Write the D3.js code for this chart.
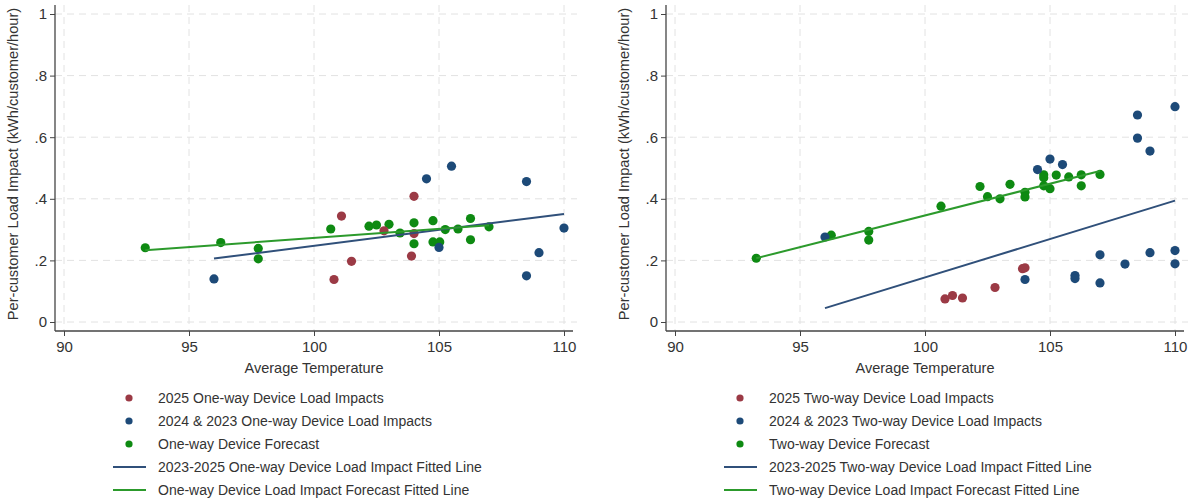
<!DOCTYPE html>
<html>
<head>
<meta charset="utf-8">
<script src="https://cdn.jsdelivr.net/npm/d3@7"></script>
<style>
  body { margin: 0; background: #fff; }
  text { font-family: "Liberation Sans", Arial, sans-serif; }
</style>
</head>
<body>
<div id="chart"></div>
<script>
// Tick values
var xTicks = [90, 95, 100, 105, 110];
var yTicks = [0, 0.2, 0.4, 0.6, 0.8, 1];
var yTickLabels = ["0", ".2", ".4", ".6", ".8", "1"];

// One-way device data: [temperature, load impact]
var oneWay2025 = [[101.1, 0.344], [100.8, 0.138], [101.5, 0.197], [102.8, 0.296],
    [104.0, 0.408], [104.0, 0.287], [103.9, 0.214]];
var oneWay2024_2023 = [[96.0, 0.140], [104.5, 0.465], [105.5, 0.506], [105.0, 0.242],
    [108.5, 0.456], [108.5, 0.150], [109.0, 0.225], [110.0, 0.305]];
var oneWayForecast = [[93.25, 0.241], [96.27, 0.258], [97.77, 0.239], [97.77, 0.205],
    [100.67, 0.302], [102.2, 0.311], [102.5, 0.315], [103.0, 0.317], [103.44, 0.289],
    [104.0, 0.322], [104.0, 0.254], [104.76, 0.329], [104.76, 0.260], [105.03, 0.260],
    [105.25, 0.300], [105.76, 0.302], [106.26, 0.336], [106.26, 0.267], [107.0, 0.309]];
var oneWayFit = [[96.0, 0.206], [110.0, 0.351]];
var oneWayForecastFit = [[93.25, 0.233], [107.0, 0.314]];

// Two-way device data
var twoWay2025 = [[100.8, 0.075], [101.1, 0.086], [101.5, 0.078], [102.8, 0.112],
    [103.9, 0.173], [104.0, 0.176]];
var twoWay2024_2023 = [[96.0, 0.276], [104.5, 0.495], [105.0, 0.529], [105.5, 0.511],
    [104.0, 0.138], [106.0, 0.151], [106.0, 0.141], [107.0, 0.218], [107.0, 0.127],
    [108.0, 0.188], [108.5, 0.672], [108.5, 0.597], [109.0, 0.555], [109.0, 0.225],
    [110.0, 0.699], [110.0, 0.232], [110.0, 0.189]];
var twoWayForecast = [[93.25, 0.207], [96.25, 0.282], [97.75, 0.294], [97.75, 0.266],
    [100.64, 0.376], [102.2, 0.440], [102.5, 0.407], [103.0, 0.400], [103.4, 0.447],
    [104.0, 0.421], [104.0, 0.406], [104.75, 0.478], [104.75, 0.468], [104.75, 0.442],
    [105.0, 0.433], [105.25, 0.477], [105.75, 0.471], [106.25, 0.478], [106.25, 0.442],
    [107.0, 0.479]];
var twoWayFit = [[96.0, 0.045], [110.0, 0.394]];
var twoWayForecastFit = [[93.25, 0.207], [107.0, 0.490]];

// Colors
var redColor = "#9b3a45";
var blueColor = "#1d4a78";
var greenColor = "#0e8a12";
var blueLine = "#30507a";
var greenLine = "#2c9a2c";

var svgWidth = 1194;
var svgHeight = 503;

var svg = d3.select("#chart")
    .append("svg")
    .attr("width", svgWidth)
    .attr("height", svgHeight);

function drawPanel(cfg) {
    var g = svg.append("g");

    var xScale = d3.scaleLinear()
        .domain([90, 110])
        .range([cfg.left, cfg.left + 500]);

    var yScale = d3.scaleLinear()
        .domain([0, 1])
        .range([322, 14]);

    // dashed grid lines
    g.selectAll(".hgrid")
        .data(yTicks)
        .enter()
        .append("line")
        .attr("x1", cfg.axisX)
        .attr("x2", cfg.left + 513)
        .attr("y1", d => yScale(d))
        .attr("y2", d => yScale(d))
        .attr("stroke", "#e2e2e2")
        .attr("stroke-dasharray", "7,5");

    g.selectAll(".vgrid")
        .data(xTicks)
        .enter()
        .append("line")
        .attr("x1", d => xScale(d))
        .attr("x2", d => xScale(d))
        .attr("y1", 5)
        .attr("y2", 331)
        .attr("stroke", "#e2e2e2")
        .attr("stroke-dasharray", "7,5");

    // x axis
    var bottomAxis = d3.axisBottom(xScale)
        .tickValues(xTicks)
        .tickSize(5)
        .tickPadding(5);

    var xAxis = g.append("g")
        .attr("transform", `translate(0, 331)`)
        .call(bottomAxis);
    xAxis.select(".domain").remove();
    xAxis.append("line")
        .attr("x1", cfg.axisX)
        .attr("x2", cfg.left + 509)
        .attr("stroke", "#444")
        .attr("stroke-width", 1.3);

    // y axis
    var leftAxis = d3.axisLeft(yScale)
        .tickValues(yTicks)
        .tickFormat((d, i) => yTickLabels[i])
        .tickSize(5)
        .tickPadding(3);

    var yAxis = g.append("g")
        .attr("transform", `translate(${cfg.axisX}, 0)`)
        .call(leftAxis);
    yAxis.select(".domain").remove();
    yAxis.append("line")
        .attr("y1", 5)
        .attr("y2", 331)
        .attr("stroke", "#444")
        .attr("stroke-width", 1.3);

    g.selectAll(".tick line").attr("stroke", "#444");
    g.selectAll(".tick text")
        .attr("font-size", "15px")
        .attr("fill", "#333")
        .style("font-family", "'Liberation Sans', Arial, sans-serif");

    // axis titles
    g.append("text")
        .attr("x", xScale(100))
        .attr("y", 373)
        .attr("text-anchor", "middle")
        .attr("font-size", "14.5px")
        .attr("fill", "#333")
        .text("Average Temperature");

    g.append("text")
        .attr("transform", `translate(${cfg.axisX - 37}, ${yScale(0.5) - 4}) rotate(-90)`)
        .attr("text-anchor", "middle")
        .attr("font-size", "14.6px")
        .attr("fill", "#333")
        .text("Per-customer Load Impact (kWh/customer/hour)");

    var line = d3.line()
        .x(d => xScale(d[0]))
        .y(d => yScale(d[1]));

    // points
    var groups = [
        { data: cfg.forecast, color: greenColor },
        { data: cfg.past, color: blueColor },
        { data: cfg.recent, color: redColor }
    ];
    groups.forEach(function (grp) {
        g.selectAll(null)
            .data(grp.data)
            .enter()
            .append("circle")
            .attr("cx", d => xScale(d[0]))
            .attr("cy", d => yScale(d[1]))
            .attr("r", 4.6)
            .attr("fill", grp.color);
    });

    // fitted lines
    g.append("path")
        .datum(cfg.fit)
        .attr("d", line)
        .attr("fill", "none")
        .attr("stroke", blueLine)
        .attr("stroke-width", 2);

    g.append("path")
        .datum(cfg.forecastFit)
        .attr("d", line)
        .attr("fill", "none")
        .attr("stroke", greenLine)
        .attr("stroke-width", 2);

    // legend
    var rows = [
        { type: "dot", color: redColor, label: cfg.labels[0] },
        { type: "dot", color: blueColor, label: cfg.labels[1] },
        { type: "dot", color: greenColor, label: cfg.labels[2] },
        { type: "line", color: blueLine, label: cfg.labels[3] },
        { type: "line", color: greenLine, label: cfg.labels[4] }
    ];
    var legend = g.append("g");
    rows.forEach(function (r, i) {
        var y = 398 + i * 23;
        if (r.type === "dot") {
            legend.append("circle")
                .attr("cx", cfg.legendX + 16)
                .attr("cy", y)
                .attr("r", 3.6)
                .attr("fill", r.color);
        } else {
            legend.append("line")
                .attr("x1", cfg.legendX)
                .attr("x2", cfg.legendX + 33)
                .attr("y1", y)
                .attr("y2", y)
                .attr("stroke", r.color)
                .attr("stroke-width", 2);
        }
        legend.append("text")
            .attr("x", cfg.legendX + 45)
            .attr("y", y + 5)
            .attr("font-size", "14px")
            .attr("fill", "#333")
            .text(r.label);
    });
}

drawPanel({
    left: 64,
    axisX: 55,
    legendX: 113,
    recent: oneWay2025,
    past: oneWay2024_2023,
    forecast: oneWayForecast,
    fit: oneWayFit,
    forecastFit: oneWayForecastFit,
    labels: ["2025 One-way Device Load Impacts",
        "2024 & 2023 One-way Device Load Impacts",
        "One-way Device Forecast",
        "2023-2025 One-way Device Load Impact Fitted Line",
        "One-way Device Load Impact Forecast Fitted Line"]
});

drawPanel({
    left: 675,
    axisX: 666,
    legendX: 724,
    recent: twoWay2025,
    past: twoWay2024_2023,
    forecast: twoWayForecast,
    fit: twoWayFit,
    forecastFit: twoWayForecastFit,
    labels: ["2025 Two-way Device Load Impacts",
        "2024 & 2023 Two-way Device Load Impacts",
        "Two-way Device Forecast",
        "2023-2025 Two-way Device Load Impact Fitted Line",
        "Two-way Device Load Impact Forecast Fitted Line"]
});
</script>
</body>
</html>
